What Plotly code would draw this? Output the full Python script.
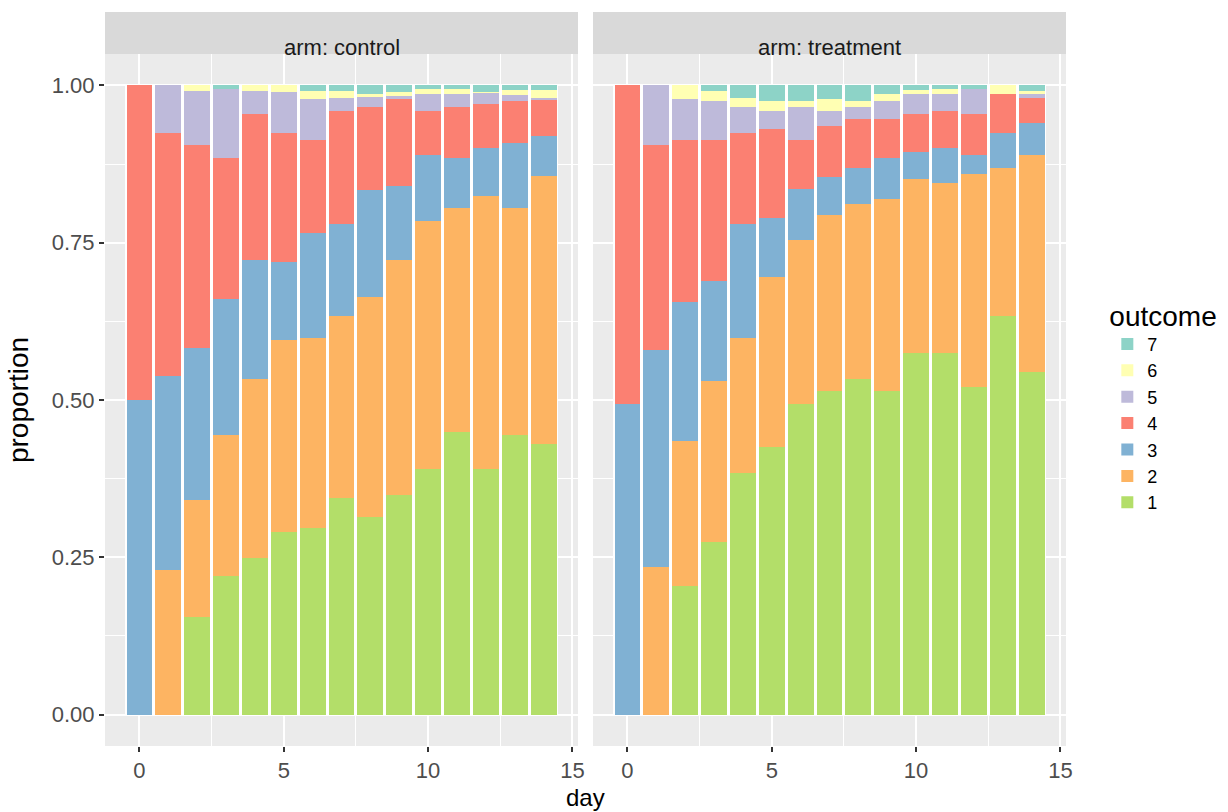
import plotly.graph_objects as go

days = list(range(15))
outcomes = ["1", "2", "3", "4", "5", "6", "7"]
colors = ["#B3DE69", "#FDB462", "#80B1D3", "#FB8072", "#BEBADA", "#FFFFB3", "#8DD3C7"]

control_o1 = [0, 0, .155, .22, .249, .29, .296, .344, .314, .349, .39, .449, .39, .444, .43]
control_o2 = [0, .23, .186, .224, .285, .305, .303, .289, .35, .374, .394, .357, .434, .362, .426]
control_o3 = [.50, .308, .242, .216, .189, .125, .167, .146, .17, .117, .106, .079, .076, .103, .063]
control_o4 = [.50, .387, .322, .225, .231, .205, .148, .18, .131, .14, .069, .08, .07, .066, .058]
control_o5 = [0, .075, .086, .11, .037, .065, .065, .021, .017, .003, .027, .021, .018, .01, .003]
control_o6 = [0, 0, .009, 0, .009, .01, .012, .011, .004, .006, .009, .008, .002, .007, .012]
control_o7 = [0, 0, 0, .005, 0, 0, .009, .009, .014, .011, .005, .006, .01, .008, .008]

treatment_o1 = [0, 0, .205, .275, .384, .425, .494, .514, .534, .515, .575, .575, .52, .634, .545]
treatment_o2 = [0, .234, .23, .255, .215, .271, .261, .28, .277, .304, .276, .27, .34, .235, .345]
treatment_o3 = [.493, .345, .221, .159, .18, .093, .08, .061, .058, .066, .043, .055, .03, .056, .05]
treatment_o4 = [.507, .326, .258, .225, .146, .141, .079, .08, .077, .061, .06, .059, .064, .061, .04]
treatment_o5 = [0, .095, .065, .061, .04, .029, .051, .024, .019, .029, .032, .027, .041, 0, .006]
treatment_o6 = [0, 0, .021, .016, .015, .017, .011, .02, .01, .012, .007, .009, 0, .014, .005]
treatment_o7 = [0, 0, 0, .009, .02, .024, .024, .021, .025, .013, .007, .005, .005, 0, .009]

arms = [
    ("control", [control_o1, control_o2, control_o3, control_o4, control_o5, control_o6, control_o7]),
    ("treatment", [treatment_o1, treatment_o2, treatment_o3, treatment_o4, treatment_o5, treatment_o6, treatment_o7]),
]

FONT = "Liberation Sans, Arial, sans-serif"
fig = go.Figure()

for ai, (arm, series) in enumerate(arms):
    xa = "x" if ai == 0 else "x2"
    ya = "y" if ai == 0 else "y2"
    # white backing so the thin gaps between bars read as white (as in the reference)
    totals = [sum(s[i] for s in series) for i in range(len(days))]
    fig.add_trace(go.Bar(x=days, y=totals, base=0, width=1.0, marker=dict(color="white", line=dict(width=0)),
                         xaxis=xa, yaxis=ya, showlegend=False, hoverinfo="skip"))
    base = [0.0] * len(days)
    for oi, vals in enumerate(series):
        fig.add_trace(go.Bar(
            x=days, y=vals, base=list(base), width=0.9, name=outcomes[oi],
            marker=dict(color=colors[oi], line=dict(width=0)),
            xaxis=xa, yaxis=ya, legendgroup=outcomes[oi],
            showlegend=(ai == 0),
        ))
        base = [b + v for b, v in zip(base, vals)]

split = 0.4922
common_x = dict(
    range=[-1.195, 15.195], tickvals=[0, 5, 10, 15], ticktext=["0", "5", "10", "15"],
    showgrid=True, gridcolor="white", gridwidth=2,
    minor=dict(tickvals=[2.5, 7.5, 12.5], showgrid=True, gridcolor="white", gridwidth=1, ticks=""),
    ticks="outside", ticklen=5, tickwidth=2, tickcolor="#333333",
    tickfont=dict(family=FONT, size=22, color="#4D4D4D"),
    zeroline=False, showline=False, fixedrange=True,
)
common_y = dict(
    range=[-0.05, 1.05], tickvals=[0, 0.25, 0.5, 0.75, 1.0],
    showgrid=True, gridcolor="white", gridwidth=2,
    minor=dict(tickvals=[0.125, 0.375, 0.625, 0.875], showgrid=True, gridcolor="white", gridwidth=1, ticks=""),
    zeroline=False, showline=False, fixedrange=True,
)

fig.update_layout(
    width=1228, height=812,
    margin=dict(l=105, r=162, t=54, b=66, autoexpand=False),
    paper_bgcolor="white", plot_bgcolor="#EBEBEB",
    barmode="overlay", bargap=0,
    font=dict(family=FONT, color="#1A1A1A"),
    xaxis=dict(domain=[0, split], anchor="y", **common_x),
    xaxis2=dict(domain=[1 - split, 1], anchor="y2", **common_x),
    yaxis=dict(domain=[0, 1], anchor="x",
               ticktext=["0.00", "0.25", "0.50", "0.75", "1.00"],
               ticks="outside", ticklen=5, tickwidth=2, tickcolor="#333333",
               tickfont=dict(family=FONT, size=22, color="#4D4D4D"),
               title=dict(text="proportion", font=dict(family=FONT, size=28, color="#000000"), standoff=14),
               **common_y),
    yaxis2=dict(domain=[0, 1], anchor="x2", showticklabels=False, ticks="", **common_y),
    legend=dict(
        x=1.043, y=0.66, xanchor="left", yanchor="top",
        traceorder="reversed", tracegroupgap=0,
        title=dict(text="outcome", font=dict(family=FONT, size=28, color="#000000")),
        font=dict(family=FONT, size=18, color="#000000"),
        bgcolor="rgba(0,0,0,0)",
    ),
)

# facet strips
strip_h = 42 / 692
for ai, (arm, _) in enumerate(arms):
    xd = "x domain" if ai == 0 else "x2 domain"
    yd = "y domain" if ai == 0 else "y2 domain"
    fig.add_shape(type="rect", xref=xd, yref=yd, x0=0, x1=1, y0=1, y1=1 + strip_h,
                  fillcolor="#D9D9D9", line=dict(width=0), layer="below")
    fig.add_annotation(xref=xd, yref=yd, x=0.5, y=1 + strip_h / 2, text="arm: " + arm,
                       showarrow=False, font=dict(family=FONT, size=22, color="#1A1A1A"))

fig.add_annotation(xref="paper", yref="paper", x=0.5, y=0, yanchor="bottom", yshift=-67,
                   text="day", showarrow=False, font=dict(family=FONT, size=24, color="#000000"))

fig.write_html("out.html", config={"displayModeBar": False},
               post_script="document.body.style.margin='0';")
